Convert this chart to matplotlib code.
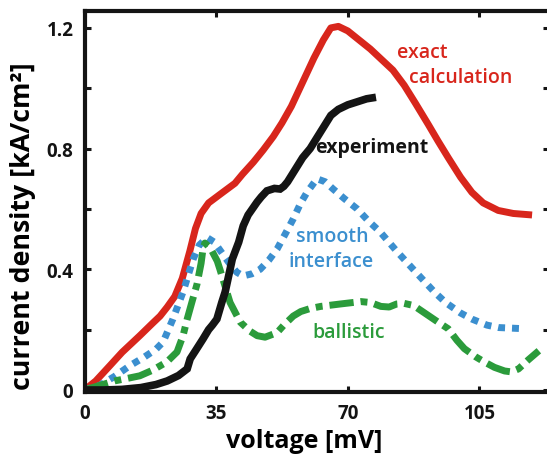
import matplotlib
matplotlib.use("Agg")
import matplotlib.pyplot as plt

plt.rcParams['font.family'] = ['Open Sans', 'DejaVu Sans']

# values (voltage in mV, current density in kA/cm^2)
exact_v = [0, 3, 6.7, 10, 14.7, 18, 20.1, 22, 24, 26, 28, 29.5, 31, 33, 36, 40,
           42, 44.9, 47.5, 50.2, 52.5, 55, 58, 61, 63.5, 65.5, 67.5, 70, 73, 76,
           79, 82, 85, 88, 91.4, 94, 96.7, 100, 103, 106, 110, 114, 119]
exact_j = [0, 0.03, 0.08, 0.125, 0.18, 0.22, 0.245, 0.275, 0.31, 0.37, 0.46, 0.535,
           0.585, 0.62, 0.648, 0.685, 0.715, 0.755, 0.795, 0.84, 0.885, 0.94, 1.02,
           1.1, 1.16, 1.2, 1.205, 1.19, 1.16, 1.13, 1.095, 1.06, 1.01, 0.95, 0.88,
           0.825, 0.77, 0.705, 0.655, 0.62, 0.595, 0.585, 0.58]

exp_v = [0, 5, 10, 15, 19, 22, 25, 27.3, 28.1, 29.5, 31.5, 33, 34, 35.2, 36.5, 37.4,
         39.3, 41, 42.2, 43.5, 45.9, 47, 48.5, 50.5, 52, 53, 54, 55, 56.5, 58, 60,
         62, 64, 65.5, 67.5, 70, 72.5, 75, 77.5]
exp_j = [0, 0, 0.002, 0.008, 0.018, 0.03, 0.048, 0.07, 0.103, 0.13, 0.169, 0.2,
         0.215, 0.235, 0.29, 0.325, 0.434, 0.49, 0.544, 0.58, 0.623, 0.64, 0.66,
         0.668, 0.666, 0.675, 0.69, 0.71, 0.74, 0.77, 0.8, 0.84, 0.88, 0.91, 0.93,
         0.945, 0.955, 0.965, 0.97]

smooth_v = [0, 4, 8, 12, 16, 19, 20.9, 23.5, 26.2, 28.9, 30.5, 32.6, 34.5, 36.5, 38.5,
            40.5, 42.2, 44.5, 46.7, 49, 51.2, 53.5, 55.5, 57.5, 59.2, 61.8, 64, 66.1,
            69, 72.5, 75.5, 78.6, 83, 87.4, 90, 93, 96, 100, 103, 107, 110, 117]
smooth_j = [0, 0.015, 0.045, 0.08, 0.11, 0.135, 0.159, 0.235, 0.325, 0.434, 0.48,
            0.505, 0.49, 0.455, 0.42, 0.39, 0.378, 0.385, 0.4, 0.43, 0.467, 0.52,
            0.567, 0.62, 0.656, 0.7, 0.69, 0.666, 0.635, 0.6, 0.56, 0.524, 0.46, 0.4,
            0.365, 0.325, 0.29, 0.255, 0.235, 0.215, 0.207, 0.203]

ball_v = [0, 4, 8, 12, 14.7, 18, 21.9, 24.6, 26.2, 27.3, 28.6, 29.9, 31, 31.5, 32,
          33.5, 35.3, 36, 38.7, 41.4, 44, 45.9, 48, 51.2, 53, 55.5, 57.5, 60, 62.8,
          68, 73.5, 76, 78.8, 81, 83, 85, 87.5, 91.4, 94, 96.7, 99, 101, 104, 106.3,
          109, 111.7, 113.5, 115.4, 118, 120.8]
ball_j = [0, 0.015, 0.03, 0.04, 0.047, 0.065, 0.093, 0.126, 0.18, 0.235, 0.293, 0.35,
          0.42, 0.467, 0.487, 0.47, 0.427, 0.4, 0.29, 0.225, 0.195, 0.18, 0.175,
          0.19, 0.215, 0.245, 0.26, 0.27, 0.277, 0.285, 0.293, 0.29, 0.277, 0.275,
          0.285, 0.287, 0.28, 0.247, 0.225, 0.203, 0.165, 0.137, 0.11, 0.093, 0.075,
          0.063, 0.06, 0.07, 0.1, 0.13]

x_ticks = [0, 35, 70, 105]
y_ticks = [0, 0.4, 0.8, 1.2]
y_ticklabels = ['0', '0.4', '0.8', '1.2']
y_minor = [0.2, 0.6, 1.0]

red = '#d8261c'
blue = '#3b8fcf'
green = '#2b9b3b'
black = '#141414'

fig = plt.figure(figsize=(5.47, 4.56), dpi=100)
ax = fig.add_axes([84.5 / 547, 63.5 / 456, 464.5 / 547, 380.5 / 456])

ax.plot(exact_v, exact_j, color=red, lw=5, solid_capstyle='butt')
ax.plot(smooth_v, smooth_j, color=blue, lw=5, linestyle=(0, (1, 1)),
        dash_capstyle='butt')
ax.plot(ball_v, ball_j, color=green, lw=5, linestyle=(0, (3.5, 1, 1, 1)),
        dash_capstyle='butt')
ax.plot(exp_v, exp_j, color=black, lw=5.5, solid_capstyle='butt',
        solid_joinstyle='miter')

ax.set_xlim(0, 123.5)
ax.set_ylim(-0.005, 1.256)

ax.set_xticks(x_ticks)
ax.set_xticklabels([str(v) for v in x_ticks])
ax.set_yticks(y_ticks)
ax.set_yticklabels(y_ticklabels)
ax.set_yticks(y_minor, minor=True)

ax.tick_params(which='both', direction='in', length=4.5, width=2.2,
               top=True, right=True, colors=black)
ax.tick_params(axis='both', labelsize=13.5, pad=8)
for lab in ax.get_xticklabels() + ax.get_yticklabels():
    lab.set_fontweight('bold')

for s in ax.spines.values():
    s.set_linewidth(3)
    s.set_color(black)

ax.set_xlabel('voltage [mV]', fontsize=18, fontweight='bold', va='baseline')
ax.xaxis.set_label_coords(0.4736, -0.146)
ax.set_ylabel('current density [kA/cm²]', fontsize=19.3, fontweight='bold',
              va='center')
ax.yaxis.set_label_coords(-0.132, 0.4376)

# curve labels
ax.text(89.8, 1.12, 'exact', color=red, fontsize=14, fontweight='semibold',
        ha='center', va='center')
ax.text(99.9, 1.037, 'calculation', color=red, fontsize=14,
        fontweight='semibold', ha='center', va='center')
ax.text(76.5, 0.805, 'experiment', color=black, fontsize=14,
        fontweight='bold', ha='center', va='center')
ax.text(65.8, 0.51, 'smooth', color=blue, fontsize=14, fontweight='semibold',
        ha='center', va='center')
ax.text(65.6, 0.428, 'interface', color=blue, fontsize=14,
        fontweight='semibold', ha='center', va='center')
ax.text(70.3, 0.192, 'ballistic', color=green, fontsize=14,
        fontweight='semibold', ha='center', va='center')

fig.savefig('out.png', dpi=100)
